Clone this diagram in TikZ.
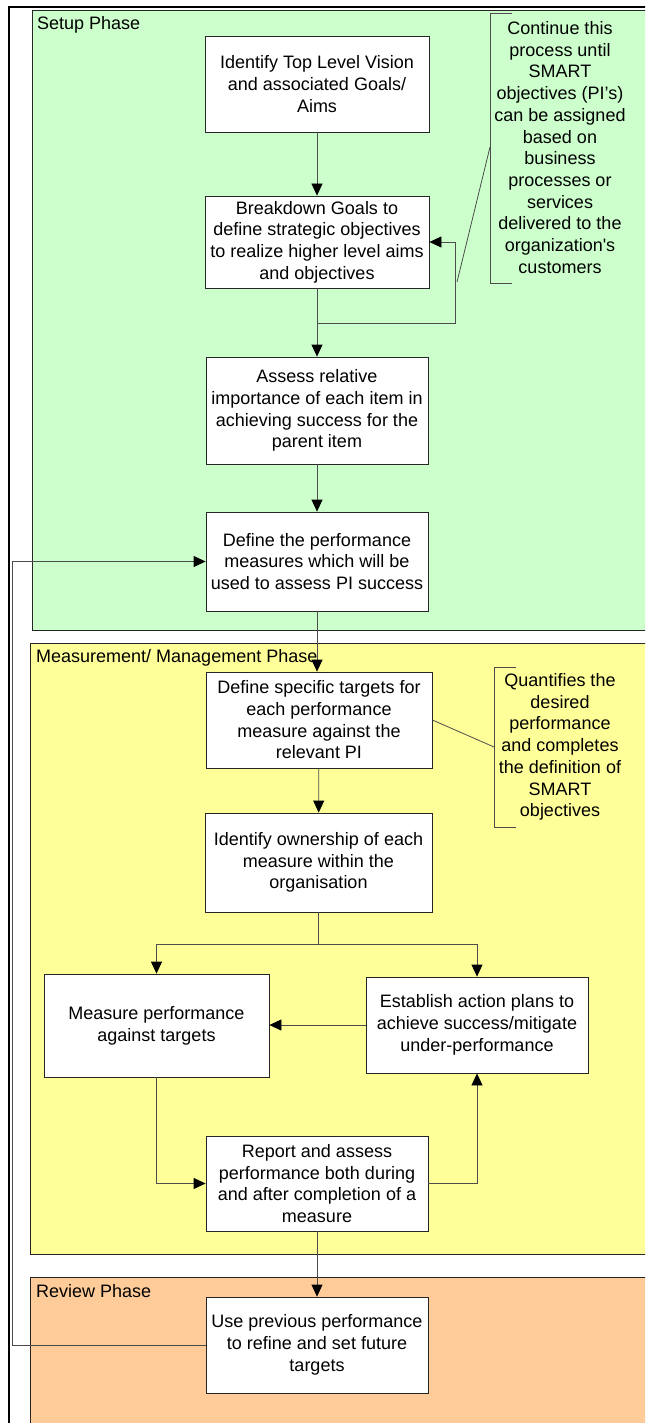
\documentclass[tikz,border=0pt]{standalone}
\usepackage{fontspec}
\setmainfont{Liberation Sans}[Ligatures=TeXOff]
\usetikzlibrary{arrows.meta}
\definecolor{setupgreen}{HTML}{CCFFCC}
\definecolor{measureyellow}{HTML}{FFFF99}
\definecolor{revieworange}{HTML}{FFCC99}
\begin{document}
\begin{tikzpicture}[x=1pt, y=1pt,
    box/.style={draw=black!85, fill=white, line width=0.8pt, minimum width=222pt,
                minimum height=96pt, align=center, inner sep=2pt,
                font=\fontsize{18}{21.7}\selectfont},
    panel/.style={draw=black!85, line width=0.8pt, anchor=north west,
                  minimum width=680pt, inner sep=0pt},
    phase/.style={anchor=west, inner sep=0pt, font=\fontsize{18}{21.7}\selectfont},
    note/.style={align=center, inner sep=0pt, font=\fontsize{18}{21.7}\selectfont},
    arrow/.style={-{Triangle[length=12pt,width=11pt,color=black]},
                  draw=black!70, line width=0.8pt},
    link/.style={draw=black!70, line width=0.8pt}
]
\useasboundingbox (0,0) rectangle (645,-1423);
\clip (0,0) rectangle (645,-1423);

% --- Outer frame ---
\draw[line width=2pt] (9,-7) rectangle (700,-1500);

% --- Phase panels ---
\node[panel, fill=setupgreen, minimum height=620pt] (setup) at (32,-10) {};
\node[phase] (setuplbl) at (37,-25) {Setup Phase};
\node[panel, fill=measureyellow, minimum height=611pt] (manage) at (30,-643) {};
\node[phase] (managelbl) at (36,-658) {Measurement/ Management Phase};
\node[panel, fill=revieworange, minimum height=200pt] (revphase) at (30,-1277) {};
\node[phase] (reviewlbl) at (36,-1291) {Review Phase};

% --- Setup Phase ---
\node[box, minimum width=224pt] (vision) at (317,-84)
    {Identify Top Level Vision\\and associated Goals/\\Aims};
\node[box, minimum width=224pt, minimum height=92pt] (breakdown) at (317,-242)
    {Breakdown Goals to\\define strategic objectives\\to realize higher level aims\\and objectives};
\node[box, minimum height=107pt] (assess) at (317,-410.5)
    {Assess relative\\importance of each item in\\achieving success for the\\parent item};
\node[box, minimum height=99pt] (measures) at (317,-561.5)
    {Define the performance\\measures which will be\\used to assess PI success};

\node[note] (continue) at (560,-147.5)
    {Continue this\\process until\\SMART\\objectives (PI’s)\\can be assigned\\based on\\business\\processes or\\services\\delivered to the\\organization's\\customers};
\coordinate (contMid) at (490,-147);
\coordinate (contTip) at (457,-282);
\draw[link] (512,-13) -| (490,-283) -- (512,-283);
\draw[link] (contMid) -- (contTip);

\draw[arrow] (vision) -- (breakdown);
\draw[arrow] (breakdown) -- (assess);
\coordinate (loopA) at (317,-323);
\draw[arrow] (loopA) -- ++(138,0) |- (breakdown.east);
\draw[arrow] (assess) -- (measures);

% --- Measurement/ Management Phase ---
\node[box, minimum width=226pt] (targets) at (319,-720)
    {Define specific targets for\\each performance\\measure against the\\relevant PI};
\node[box, minimum width=227pt, minimum height=99pt] (ownership) at (318.5,-862.5)
    {Identify ownership of each\\measure within the\\organisation};
\node[box, minimum width=225pt, minimum height=103pt] (measure) at (156.5,-1025.5)
    {Measure performance\\against targets};
\node[box] (action) at (477,-1025)
    {Establish action plans to\\achieve success/mitigate\\under-performance};
\node[box, minimum height=95pt] (report) at (317,-1183.5)
    {Report and assess\\performance both during\\and after completion of a\\measure};

\node[note] (quantify) at (560,-747)
    {Quantifies the\\desired\\performance\\and completes\\the definition of\\SMART\\objectives};
\coordinate (quantMid) at (494,-747);
\draw[link] (516,-667) -| (494,-827) -- (516,-827);
\draw[link] (targets.east) -- (quantMid);

\draw[arrow] (measures.south) -- (measures.south |- targets.north);
\draw[arrow] (targets) -- (ownership);
\coordinate (split) at (318.5,-944);
\draw[link] (ownership.south) -- (split);
\draw[arrow] (split) -| (measure.north);
\draw[arrow] (split) -| (action.north);
\draw[arrow] (action.west) -- (action.west -| measure.east);
\draw[arrow] (measure.south) |- (report.west);
\draw[arrow] (report.east) -| (action.south);

% --- Review Phase ---
\node[box] (review) at (317,-1345)
    {Use previous performance\\to refine and set future\\targets};
\draw[arrow] (report) -- (review);
\draw[arrow] (review.west) -- ++(-193,0) |- (measures.west);

\end{tikzpicture}
\end{document}
